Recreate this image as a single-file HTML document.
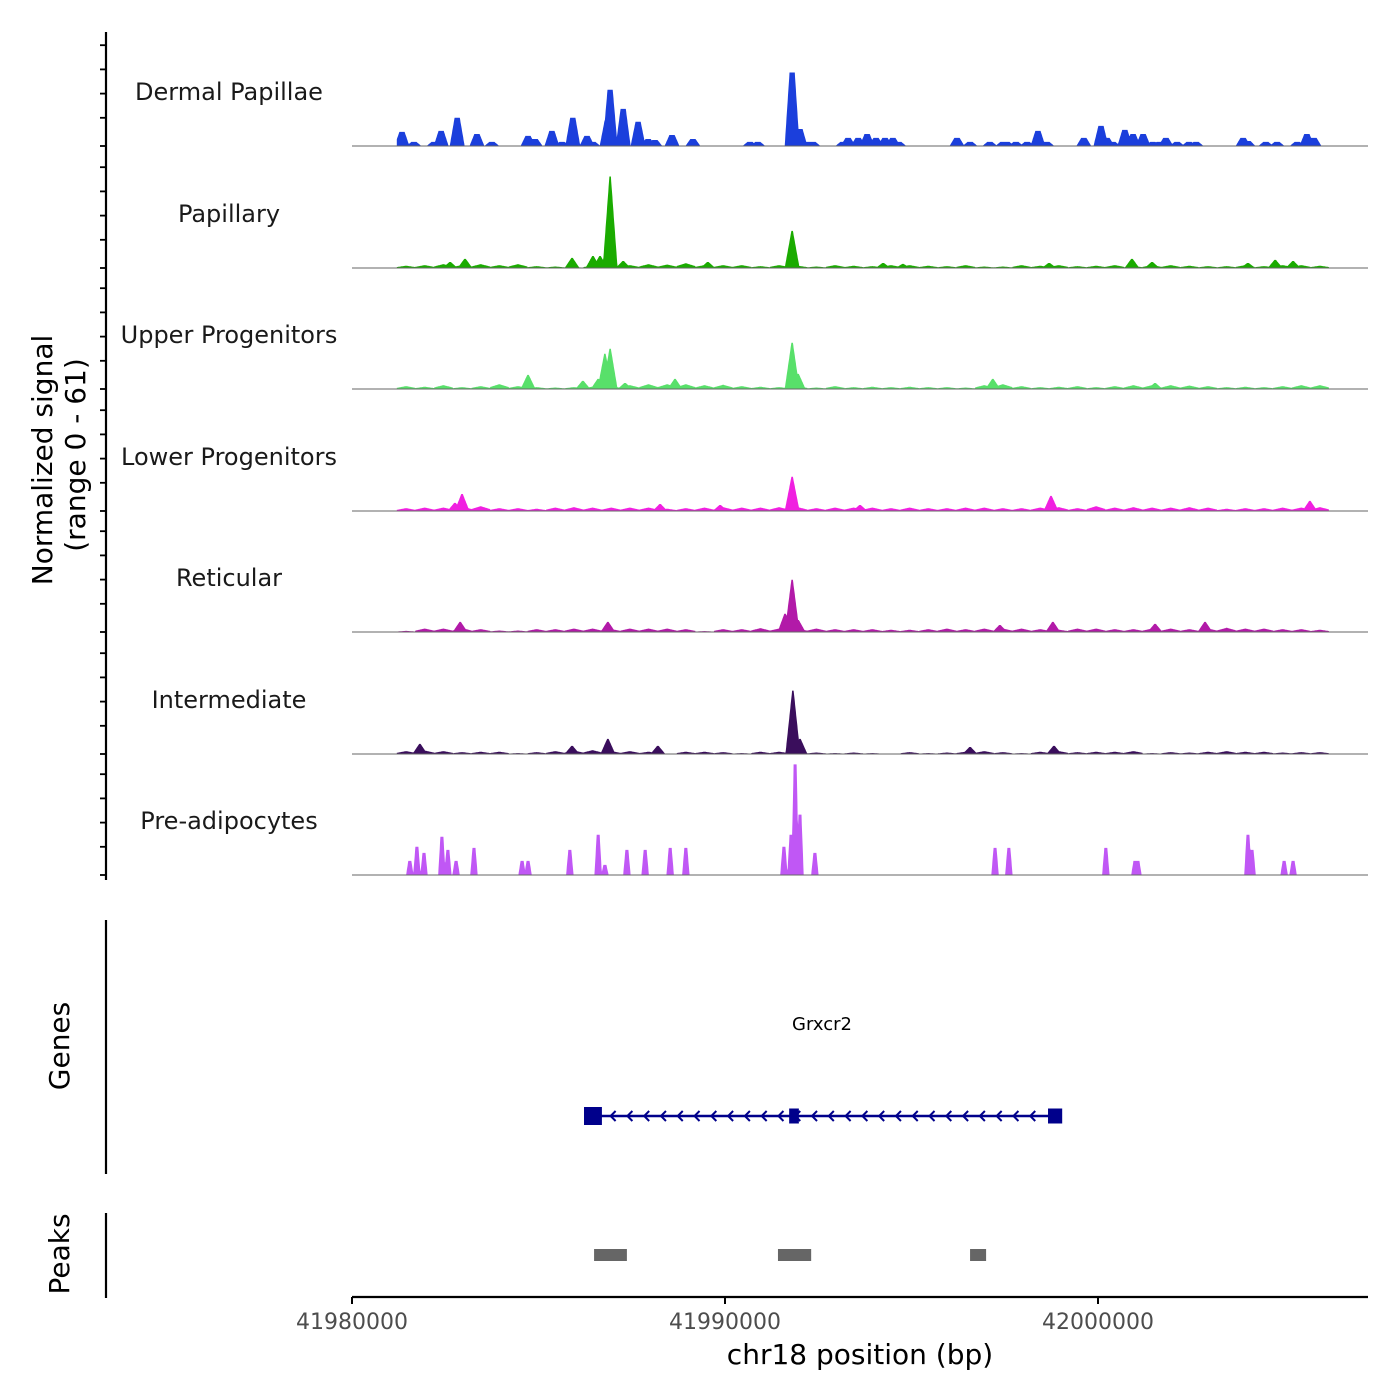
<!DOCTYPE html>
<html><head><meta charset="utf-8">
<style>
html,body{margin:0;padding:0;background:#fff;}
svg{display:block;font-family:"DejaVu Sans","Liberation Sans",sans-serif;}
</style></head>
<body>
<svg id="chart" width="1400" height="1400" viewBox="0 0 1400 1400" xmlns="http://www.w3.org/2000/svg">
<g id="tracks"></g>
<g id="leftaxis"></g>
<text transform="translate(52,460) rotate(-90)" text-anchor="middle" font-size="28" fill="#000">Normalized signal</text>
<text transform="translate(85,455) rotate(-90)" text-anchor="middle" font-size="28" fill="#000">(range 0 - 61)</text>
<line x1="106" y1="920" x2="106" y2="1174" stroke="#000" stroke-width="2.2"/>
<text transform="translate(69,1046) rotate(-90)" text-anchor="middle" font-size="28" fill="#000">Genes</text>
<line x1="106" y1="1213" x2="106" y2="1298" stroke="#000" stroke-width="2.2"/>
<text transform="translate(69,1254) rotate(-90)" text-anchor="middle" font-size="28" fill="#000">Peaks</text>
<g id="genes"></g>
<g id="peaks"></g>
<g id="xaxis"></g>
<text x="860" y="1364" text-anchor="middle" font-size="28" fill="#000">chr18 position (bp)</text>
</svg>
<script>
// ---- data (positions in kb offset from 41980000 bp; values in normalized signal 0-61) ----
const trackNames = ["Dermal Papillae","Papillary","Upper Progenitors","Lower Progenitors","Reticular","Intermediate","Pre-adipocytes"];
const dpPos = [1.34,1.66,2.20,2.39,2.82,3.35,3.75,4.72,4.91,5.36,5.63,5.92,6.30,6.46,6.84,6.92,7.27,7.67,7.94,8.12,8.58,9.14,10.67,10.88,11.80,12.01,12.23,12.36,13.16,13.30,13.57,13.81,14.05,14.29,14.50,14.66,16.22,16.57,17.10,17.45,17.56,17.80,18.10,18.39,18.63,19.62,20.08,20.24,20.40,20.72,20.94,21.21,21.47,21.64,21.82,22.12,22.44,22.63,23.89,24.02,24.50,24.80,25.34,25.60,25.79];
const dpVal = [7.3,2.1,2.1,7.8,14.6,6.2,2.1,5.2,3.6,7.8,2.1,14.6,5.2,2.1,13,29.1,19.2,12.5,3.6,3.1,5.7,3.6,2.1,2.1,38,8.8,2.1,2.1,2.1,4.2,4.2,6.2,4.2,4.2,4.2,2.1,4.2,2.1,2.1,2.1,2.1,2.1,2.1,7.8,2.1,4.2,10.4,4.2,2.1,8.3,6.2,6.2,2.1,2.1,4.2,2.1,2.1,2.1,4.2,2.6,2.1,2.1,2.1,6.2,4.2];
const papPos = [2.63,3.03,5.90,6.46,6.65,6.92,7.27,9.54,11.80,14.24,14.77,18.69,20.91,21.45,24.02,24.75,25.23];
const papVal = [3.1,4.7,5.2,6.2,6.2,47.3,3.6,3.1,19.2,2.6,2.1,2.6,4.7,3.1,2.6,4.2,3.6];
const upPos = [4.72,6.19,6.60,6.78,6.92,7.32,8.66,11.80,11.96,17.18,21.53];
const upVal = [7.3,4.2,5.2,18.2,20.8,3.1,5.2,23.9,7.8,5.2,3.1];
const lowPos = [2.76,2.95,8.26,9.87,11.80,13.62,18.74,25.68];
const lowVal = [4.2,8.8,3.6,3.1,17.7,3.1,7.8,5.2];
const retPos = [2.90,6.86,11.61,11.80,11.96,17.37,18.79,21.53,22.87];
const retVal = [5.2,5.2,9.4,27,6.2,3.6,5.2,4.2,5.2];
const intPos = [1.82,5.90,6.86,8.20,11.82,12.01,16.57,18.82];
const intVal = [5.2,4.2,7.8,4.2,32.8,7.8,3.6,4.2];
const prePos = [1.55,1.74,1.93,2.41,2.57,2.79,3.27,4.56,4.72,5.84,6.60,6.78,7.37,7.86,8.53,8.95,11.58,11.77,11.88,12.01,12.41,17.24,17.61,20.21,20.99,21.07,24.02,24.13,24.99,25.23];
const preVal = [7.3,14.6,11.4,19.8,13,7.3,14,7.3,7.3,13,20.8,5.2,13,13,14,14,14.6,20.8,57.2,31.2,11.4,14,14,14,7.3,7.3,20.8,13,7.3,7.3];
// background coverage, 0.5 kb bins starting at 1.2 kb
const papBg = [1.2,1.5,2,1.5,2,1.5,2,1,0.8,0.5,1.2,1.5,1.5,2,1.8,2.5,1.5,1.5,1.5,1,1.5,1.2,0.8,1.5,1.2,1,1.5,1.5,1.2,1,1.5,0.8,0.8,1.5,1.2,1.5,1,1.2,1.5,1,1.5,1.5,1.2,1,1,1.5,1,1.5,1.5,1.2,0.5];
const upBg = [1.5,1.2,2,1,1.5,2.5,1.5,1,0.8,1,1.2,1.5,2,2.5,2.5,2.5,2,2.2,1.5,1.2,1,1.5,0.8,1.5,1,1.2,1,1.2,1,1,0.8,2,2.5,1.5,1,1.2,1.5,1,1.5,2,2,2,1.8,1.5,1,1.2,1,1.5,2,2,1.2];
const lowBg = [1.5,1.8,1.8,2.5,2.5,1.5,1.5,1.2,1.8,2,1.8,1.8,1.8,1.8,1.2,1.5,1.8,2,1.8,1.8,2,2,1.5,1.8,1.8,1.8,1.5,1.8,1.5,1.5,1.8,1.8,1.5,1.5,1.8,2,1.5,2.5,1.8,2,1.8,1.8,2,1.8,1.2,1.5,1.5,1.8,1.8,2,1.8];
const retBg = [0.6,1.8,1.8,2,1.5,0.8,0.8,1.5,1.5,1.8,1.8,1.5,1.8,1.8,1.8,1.5,0.5,1.5,1.5,2,1.8,1.8,1.8,1.5,1.5,1.5,1.2,1.2,1.5,1.8,1.5,1.8,1.8,1.8,1.5,1.2,1.8,1.8,1.5,1.5,1.8,1.8,1.5,1.8,2.2,1.8,1.8,1.5,1.5,1.2,0.6];
const intBg = [1.5,1.8,1.5,1,1.2,1.2,0.5,1,1.5,1.8,2,1.5,1.5,1.2,0,1.2,1.2,1,0.5,1.2,1.2,0.5,0.8,0.5,0.8,0.5,0,1,0.5,0.8,1.2,1.5,1,0.5,1.2,1.5,1,1.2,1.2,1.5,0.5,1,0.8,1.2,1.5,1.2,1.2,0.8,1,1,0.5];

const tracks = [
  {name:trackNames[0], color:"#1b3fdc", pos:dpPos, val:dpVal, bg:null, hw:0.2, flat:0.07},
  {name:trackNames[1], color:"#1aab00", pos:papPos, val:papVal, bg:papBg, hw:0.2, flat:0.02},
  {name:trackNames[2], color:"#58e06a", pos:upPos, val:upVal, bg:upBg, hw:0.2, flat:0.02},
  {name:trackNames[3], color:"#f020e0", pos:lowPos, val:lowVal, bg:lowBg, hw:0.2, flat:0.02},
  {name:trackNames[4], color:"#b21aa8", pos:retPos, val:retVal, bg:retBg, hw:0.2, flat:0.02},
  {name:trackNames[5], color:"#3a0e5c", pos:intPos, val:intVal, bg:intBg, hw:0.2, flat:0.02},
  {name:trackNames[6], color:"#c057f5", pos:prePos, val:preVal, bg:null, hw:0.1, flat:0.04}
];
const xTicks = [41980000,41990000,42000000];
const geneStart = 6.46, geneEnd = 18.85, geneExons = [[6.22,6.70],[11.72,11.98],[18.66,19.04]];
const peakStarts = [6.49,11.42,16.57], peakEnds = [7.37,12.31,17.00];

// ---- scales ----
const X0 = 352, PXPERKB = 37.3;
const x = kb => X0 + kb*PXPERKB;
const xbp = bp => X0 + (bp-41980000)/1000*PXPERKB;
const baselines = [146,268,389,511,632,754,875];
const y = (v,base) => base - v*(118/61);
const ns = "http://www.w3.org/2000/svg";
function mk(tag, attrs, parent){const e=document.createElementNS(ns,tag);for(const k in attrs)e.setAttribute(k,attrs[k]);parent.appendChild(e);return e;}

const tg = document.getElementById("tracks");
tracks.forEach((t,i)=>{
  const base = baselines[i];
  const step = 0.01;
  const pts = [];
  for(let k=1.2;k<=26.2;k+=step){
    let v=0;
    if(t.bg){
      const bi = Math.floor((k-1.2)/0.5);
      if(bi>=0 && bi<t.bg.length){
        const frac = ((k-1.2)/0.5)-bi;
        const tri = 1-Math.abs(frac-0.5)*1.2;
        v = t.bg[bi]*tri;
      }
    }
    for(let j=0;j<t.pos.length;j++){
      const d=Math.abs(k-t.pos[j]);
      if(d<=t.flat) v=Math.max(v,t.val[j]);
      else if(d<t.hw) v=Math.max(v,t.val[j]*(1-(d-t.flat)/(t.hw-t.flat)));
    }
    pts.push([k,v]);
  }
  let d = "M"+x(pts[0][0]).toFixed(1)+","+base;
  pts.forEach(p=>{d+="L"+x(p[0]).toFixed(1)+","+y(p[1],base).toFixed(1);});
  d+="L"+x(pts[pts.length-1][0]).toFixed(1)+","+base+"Z";
  const g = mk("g",{},tg);
  
  
  const area = mk("path",{d:d, fill:t.color, stroke:"none"},g);
  
  
  const bl = mk("line",{x1:352,x2:1368,y1:base,y2:base,stroke:"#666","stroke-width":1},g);
  
  
  const lab = mk("text",{x:229,y:base-46,"text-anchor":"middle","font-size":"24",fill:"#1a1a1a"},g);
  lab.textContent = t.name;
  
  
});

// left axis
const la = document.getElementById("leftaxis");
const ax = mk("line",{x1:106,x2:106,y1:32,y2:880,stroke:"#000","stroke-width":2.2},la);


baselines.forEach(b=>{
  [0,0.2,0.4,0.6,0.8].forEach((f,j)=>{
    const yy = b - f*121 + (j===0?0:-4);
    const tk = mk("line",{x1:100,x2:106,y1:yy,y2:yy,stroke:"#000","stroke-width":1.8},la);
    
    
  });
});

// genes
const gg = document.getElementById("genes");
const gl = mk("text",{x:822,y:1030,"text-anchor":"middle","font-size":"18",fill:"#000"},gg);
gl.textContent="Grxcr2";


const gline = mk("line",{x1:x(geneStart),x2:x(geneEnd),y1:1116,y2:1116,stroke:"#00008b","stroke-width":2.5},gg);


for(let k=geneStart+0.5;k<geneEnd-0.2;k+=0.45){
  const xx=x(k);
  const ar = mk("path",{d:`M${xx+4},${1111}L${xx-1},${1116}L${xx+4},${1121}`,fill:"none",stroke:"#00008b","stroke-width":2},gg);
  
  
}
geneExons.forEach((e,i)=>{
  const h = i===0?18:15;
  const r = mk("rect",{x:x(e[0]),y:1116-h/2,width:x(e[1])-x(e[0]),height:h,fill:"#00008b"},gg);
  
  
});

// peaks
const pg = document.getElementById("peaks");
peakStarts.forEach((s,i)=>{
  const r = mk("rect",{x:x(s),y:1249,width:x(peakEnds[i])-x(s),height:12,fill:"#666"},pg);
  
  
});

// x axis
const xa = document.getElementById("xaxis");
const xl = mk("line",{x1:352,x2:1368,y1:1297,y2:1297,stroke:"#000","stroke-width":2.2},xa);


xTicks.forEach(t=>{
  const tk = mk("line",{x1:xbp(t),x2:xbp(t),y1:1297,y2:1304,stroke:"#000","stroke-width":2},xa);
  
  
  const lb = mk("text",{x:xbp(t),y:1329,"text-anchor":"middle","font-size":"22",fill:"#4d4d4d"},xa);
  lb.textContent = String(t);
  
  
});
</script>
</body></html>
